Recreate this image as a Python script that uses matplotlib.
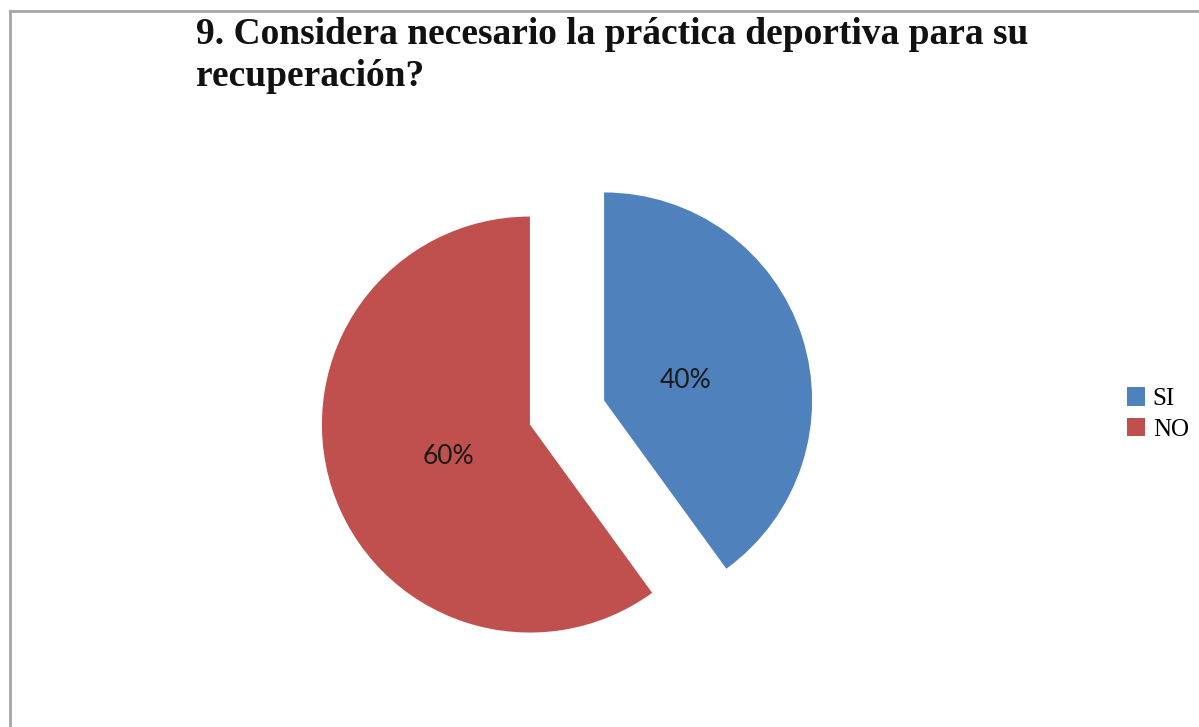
import matplotlib.pyplot as plt
from matplotlib.lines import Line2D
from matplotlib.patches import Patch

# Chart data
labels = ['SI', 'NO']
values = [40, 60]
colors = ['#4F81BD', '#C0504D']
title_lines = ['9. Considera necesario la práctica deportiva para su', 'recuperación?']

W, H = 1199, 727
fig = plt.figure(figsize=(W / 100, H / 100), dpi=100)
fig.patch.set_facecolor('white')

# axes in pixel units so the pie sits where it should
ax = fig.add_axes([0, 0, 1, 1])

# explode is in data units here (pixels)
wedges, texts, autotexts = ax.pie(
    values, colors=colors, startangle=90, counterclock=False,
    explode=[39, 39], radius=208, center=(567, H - 412.5),
    autopct='%1.0f%%', pctdistance=0.41,
    textprops={'family': ['Lato', 'DejaVu Sans'], 'fontsize': 19, 'color': '#1a1a1a'},
)
# nudge the percent labels down a little, like the original
for t in autotexts:
    x, y = t.get_position()
    t.set_position((x, y - 6))

ax.set_xlim(0, W)
ax.set_ylim(0, H)
ax.set_aspect('equal')
ax.axis('off')

# title, two lines
serif = ['Liberation Serif', 'DejaVu Serif']
for i, line in enumerate(title_lines):
    fig.text(196 / W, 1 - (44 + 42 * i) / H, line, family=serif, fontweight='bold',
             fontsize=27, ha='left', va='baseline', color='#111111')

# legend
handles = [Patch(facecolor=c, edgecolor='none') for c in colors]
leg = fig.legend(handles, labels, loc='center left', bbox_to_anchor=(1104 / W, 1 - 414 / H),
                 frameon=False, prop={'family': serif, 'size': 18},
                 handlelength=0.75, handleheight=0.75, handletextpad=0.3, labelspacing=0.3)

# frame lines at the left and top
fig.add_artist(Line2D([10 / W, 10 / W], [0, 1 - 11 / H], transform=fig.transFigure,
                      color='#a6a6a6', lw=2))
fig.add_artist(Line2D([10 / W, 1], [1 - 11 / H, 1 - 11 / H], transform=fig.transFigure,
                      color='#a6a6a6', lw=2))

fig.savefig('out.png', dpi=100)
